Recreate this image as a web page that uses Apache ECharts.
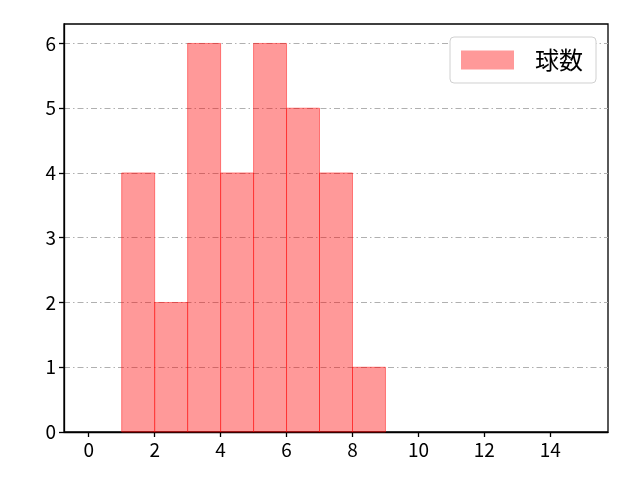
<!DOCTYPE html>
<html>
<head>
<meta charset="utf-8">
<script src="https://cdn.jsdelivr.net/npm/echarts@6/dist/echarts.min.js"></script>
<style>
html, body { margin: 0; padding: 0; background: #fff; }
#chart { width: 640px; height: 480px; }
</style>
</head>
<body>
<div id="chart"></div>
<script>
// histogram bins (start, end) and counts
var binStarts = [1, 2, 3, 4, 5, 6, 7, 8];
var binEnds = [2, 3, 4, 5, 6, 7, 8, 9];
var counts = [4, 2, 6, 4, 6, 5, 4, 1];
var seriesName = '球数';

var FONT = '"Noto Sans CJK JP", "Noto Sans", sans-serif';

var myChart = echarts.init(document.getElementById('chart'));

var histData = [];
binStarts.forEach(function(s, i) {
	histData.push([s, binEnds[i], counts[i]]);
});

var option = {
	animation: false,
	grid: {
		left: 64,
		right: 32,
		top: 24,
		bottom: 48,
		show: true,
		borderColor: '#000',
		borderWidth: 1.3,
		backgroundColor: 'transparent'
	},
	legend: {
		data: [{ name: seriesName, icon: 'rect' }],
		right: 44,
		top: 37,
		itemWidth: 53,
		itemHeight: 19,
		padding: [11, 13, 11, 11],
		borderColor: '#d0d0d0',
		borderWidth: 1,
		borderRadius: 4,
		backgroundColor: '#fff',
		textStyle: { fontFamily: FONT, fontSize: 24, color: '#000', padding: [0, 0, 0, 16] }
	},
	xAxis: {
		type: 'value',
		min: -0.75,
		max: 15.75,
		splitNumber: 8,
		axisLine: { show: true, onZero: false, lineStyle: { color: '#000', width: 1.3 } },
		axisTick: { show: true, length: 5, lineStyle: { color: '#000', width: 1.3 } },
		axisLabel: {
			showMinLabel: false,
			showMaxLabel: false,
			fontFamily: FONT, fontSize: 19, color: '#000', margin: 8
		},
		splitLine: { show: false }
	},
	yAxis: {
		type: 'value',
		min: 0,
		max: 6.3,
		interval: 1,
		axisLine: { show: true, onZero: false, lineStyle: { color: '#000', width: 1.3 } },
		axisTick: { show: true, length: 5, lineStyle: { color: '#000', width: 1.3 } },
		axisLabel: {
			showMaxLabel: false,
			fontFamily: FONT, fontSize: 19, color: '#000', margin: 8
		},
		splitLine: {
			show: true,
			showMinLine: false,
			showMaxLine: false,
			lineStyle: { color: '#b0b0b0', width: 1, type: [6, 3, 1.5, 3] }
		}
	},
	series: [{
		name: seriesName,
		type: 'custom',
		itemStyle: { color: 'rgba(255,0,0,0.4)', borderColor: 'rgba(255,0,0,0.45)' },
		encode: { x: [0, 1], y: 2 },
		data: histData,
		renderItem: function(params, api) {
			var p0 = api.coord([api.value(0), api.value(2)]);
			var p1 = api.coord([api.value(1), 0]);
			return {
				type: 'rect',
				shape: { x: p0[0], y: p0[1], width: p1[0] - p0[0], height: p1[1] - p0[1] },
				style: { fill: 'rgba(255,0,0,0.4)', stroke: 'rgba(255,0,0,0.45)', lineWidth: 1 }
			};
		}
	}]
};

myChart.setOption(option);
</script>
</body>
</html>
